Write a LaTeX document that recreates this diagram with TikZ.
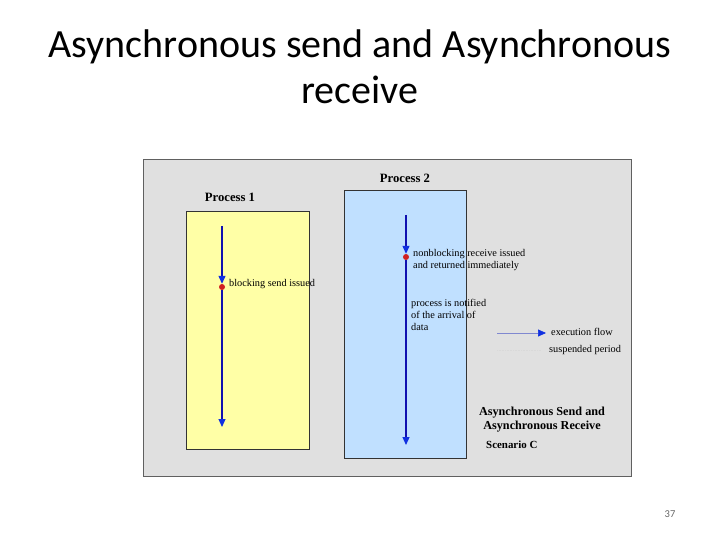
\documentclass[tikz,border=0pt]{standalone}
\usepackage{fontspec}
\setmainfont{Liberation Serif}
\newfontfamily\titlefont{Carlito}
\usetikzlibrary{arrows.meta}
\definecolor{panelgray}{HTML}{E0E0E0}
\definecolor{panelborder}{HTML}{606060}
\definecolor{yellowbox}{HTML}{FFFFA6}
\definecolor{bluebox}{HTML}{C0E0FF}
\definecolor{flowblue}{HTML}{1010B0}
\definecolor{headblue}{HTML}{1030E0}
\definecolor{legendline}{HTML}{8088D0}
\definecolor{dotred}{HTML}{D02020}
\tikzset{
  procbox/.style={draw=black!80, line width=0.8pt},
  flow/.style={draw=flowblue, line width=1.2pt, -{Triangle[length=8pt,width=7pt,color=headblue]}},
  small/.style={font=\fontsize{10.3}{12}\selectfont, inner sep=0pt, anchor=west, align=left},
  heading/.style={font=\bfseries\fontsize{12.7}{14}\selectfont, inner sep=0pt},
  titletext/.style={font=\titlefont\fontsize{40}{47}\selectfont, inner sep=0pt, anchor=base},
  reddot/.style={circle, fill=dotred, inner sep=0pt, minimum size=6pt}
}
\begin{document}
\begin{tikzpicture}[x=1pt,y=-1pt]
\useasboundingbox (0,0) rectangle (720,540);
% title
\node[titletext] (title1) at (360,58) {Asynchronous send and Asynchronous};
\node[titletext] (title2) at (360,104) {receive};
% panel
\filldraw[fill=panelgray, draw=panelborder, line width=0.8pt] (143,159) rectangle (631,476);
% boxes
\filldraw[procbox, fill=yellowbox] (186,211) rectangle (309,449);
\filldraw[procbox, fill=bluebox] (344,190) rectangle (466,458);
\node[heading] (p1) at (230,197) {Process 1};
\node[heading] (p2) at (405,178) {Process 2};
% process 1 flow
\coordinate (a1) at (222,226);
\node[reddot] (d1) at (222,287) {};
\coordinate (b1) at (222,427);
\draw[flow] (a1) -- (d1.north);
\draw[flow] (d1.south) -- (b1);
\node[small] (t1) at (229,284) {blocking send issued};
% process 2 flow
\coordinate (a2) at (406,215);
\node[reddot] (d2) at (406,257) {};
\coordinate (b2) at (406,445);
\draw[flow] (a2) -- (d2.north);
\draw[flow] (d2.south) -- (b2);
\node[small] (t2) at (413,260) {nonblocking receive issued\\and returned immediately};
\node[small] (t3) at (411,315) {process is notified\\of the arrival of\\data};
% legend
\coordinate (l1a) at (497,333);
\coordinate (l1b) at (546,333);
\draw[flow, draw=legendline, line width=0.7pt] (l1a) -- (l1b);
\node[small] (t4) at (551,332) {execution flow};
\coordinate (l2a) at (497,350);
\coordinate (l2b) at (541,350);
\draw[white!85!black, line width=0.6pt, densely dotted] (l2a) -- (l2b);
\node[small] (t5) at (549,350) {suspended period};
% caption
\node[heading, font=\bfseries\fontsize{12.2}{14}\selectfont, align=center] (cap) at (542,420) {Asynchronous Send and\\Asynchronous Receive};
\node[heading, font=\bfseries\fontsize{10.9}{12}\selectfont, anchor=west] (scen) at (486,445) {Scenario C};
% page number
\node[font=\titlefont\fontsize{10.5}{12}\selectfont, text=black!60] (pg) at (670,514) {37};
\end{tikzpicture}
\end{document}
